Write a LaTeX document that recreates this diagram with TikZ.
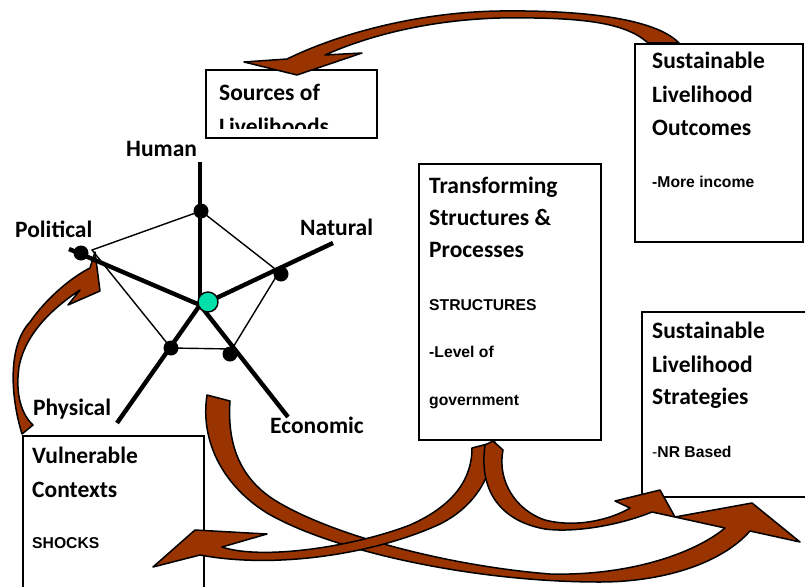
\documentclass[tikz,border=0pt]{standalone}
\usepackage{fontspec}
\newfontfamily\headfont{Carlito}
\newfontfamily\smallfont{Liberation Sans}
\definecolor{arrowbrown}{RGB}{153,51,0}
\definecolor{hubgreen}{RGB}{0,224,168}
\begin{document}
\begin{tikzpicture}[x=1pt,y=-1pt,
  boxframe/.style={draw=black, line width=1.6pt, fill=white, inner sep=0pt, anchor=north west},
  headtxt/.style={font=\headfont\bfseries\fontsize{23.5}{28}\selectfont, anchor=base west, inner sep=0pt},
  notetxt/.style={font=\smallfont\bfseries\fontsize{15.7}{19}\selectfont, anchor=base west, inner sep=0pt},
  capname/.style={font=\headfont\bfseries\fontsize{23.5}{28}\selectfont, anchor=base west, inner sep=0pt},
  blockarrow/.style={fill=arrowbrown, draw=black, line width=1.5pt, line join=round},
  spoke/.style={line width=4.4pt},
  rim/.style={line width=1.4pt},
  vertexdot/.style={circle, fill=black, inner sep=0pt, minimum size=15pt},
]
\path[use as bounding box] (0,0) rectangle (805,586);
\clip (0,0) rectangle (805,586);

% ---------- boxes ----------
\node[boxframe, minimum width=171pt, minimum height=68pt] (sources) at (205,69) {};
\node[boxframe, minimum width=182pt, minimum height=276pt] (transform) at (418,163) {};
\node[boxframe, minimum width=168pt, minimum height=198pt] (outcomes) at (634,43) {};
\node[boxframe, minimum width=220pt, minimum height=185pt] (strategies) at (641,311) {};
\node[boxframe, minimum width=181pt, minimum height=200pt] (vulnerable) at (22,435) {};

% ---------- box texts ----------
\node[headtxt] (srcA) at (219,100) {Sources of};
\begin{scope}
  \clip (206,70) rectangle (375,128);
  \node[headtxt] (srcB) at (219,134) {Livelihoods};
\end{scope}

\node[headtxt] (outA) at (652,68) {Sustainable};
\node[headtxt] (outB) at (652,102) {Livelihood};
\node[headtxt] (outC) at (652,135) {Outcomes};
\node[notetxt] (outD) at (652,187) {-More income};

\node[headtxt] (trA) at (429,193) {Transforming};
\node[headtxt] (trB) at (429,225) {Structures \&};
\node[headtxt] (trC) at (429,257) {Processes};
\node[notetxt] (trD) at (429,310) {STRUCTURES};
\node[notetxt] (trE) at (429,357) {-Level of};
\node[notetxt] (trF) at (429,405) {government};

\node[headtxt] (stA) at (652,338) {Sustainable};
\node[headtxt] (stB) at (652,372) {Livelihood};
\node[headtxt] (stC) at (652,404) {Strategies};
\node[notetxt] (stD) at (652,457) {{\mdseries-}NR Based};

\node[headtxt] (vuA) at (32,463) {Vulnerable};
\node[headtxt] (vuB) at (32,497) {Contexts};
\node[notetxt] (vuC) at (32,548) {SHOCKS};

% ---------- curved block arrow: shocks back to political capital ----------
\draw[blockarrow] (22,434) .. controls (10,395) and (8,345) .. (30,322)
  .. controls (45,300) and (70,278) .. (90,268) -- (95,252) -- (100,291)
  -- (68,305) -- (80,290) .. controls (50,310) and (25,335) .. (19,367)
  .. controls (15,395) and (22,415) .. (33,425) -- cycle;

% ---------- asset pentagon ----------
\coordinate (hub) at (200,305);
\coordinate (coreC) at (208,302);
\coordinate (pH) at (201,211);
\coordinate (pN) at (279,272);
\coordinate (pE) at (232,349);
\coordinate (pP) at (171,348);
\coordinate (pPo) at (92,250);
\draw[rim] (pH) -- (pN) -- (pE) -- (pP) -- (pPo) -- cycle;

\coordinate (tipH) at (200,162);
\coordinate (tipN) at (333,243);
\coordinate (tipPo) at (69,249);
\coordinate (tipP) at (117,423);
\coordinate (tipE) at (288,417);
\draw[spoke] (tipH) -- (hub);
\draw[spoke] (tipPo) -- (hub);
\draw[spoke] (hub) -- (tipP);
\draw[spoke] (hub) -- (tipE);
\draw[spoke] (coreC) -- (tipN);

\node[vertexdot] (dH) at (201,211) {};
\node[vertexdot] (dN) at (281,274) {};
\node[vertexdot] (dPo) at (81,253) {};
\node[vertexdot] (dP) at (171,348) {};
\node[vertexdot] (dE) at (230,354) {};
\node[circle, fill=hubgreen, draw=black, line width=1.4pt, minimum size=20pt, inner sep=0pt] (core) at (coreC) {};

\node[capname] (lHuman) at (126,156) {Human};
\node[capname] (lPolitical) at (15,237) {Political};
\node[capname] (lNatural) at (300,235) {Natural};
\node[capname] (lPhysical) at (33,415) {Physical};
\node[capname] (lEconomic) at (270,433) {Economic};

% ---------- outcomes feed back to sources ----------
\draw[blockarrow] (648,43) .. controls (625,22) and (580,17) .. (500,18)
  .. controls (430,20) and (370,35) .. (325,55) -- (362,53) -- (297,75)
  -- (244,62) -- (287,59) .. controls (340,33) and (420,12) .. (500,11)
  .. controls (580,10) and (655,18) .. (679,43) -- cycle;

% ---------- assets sweep round to the strategies ----------
\draw[blockarrow] (207,395) -- (230,401) .. controls (227,445) and (240,482) .. (283,505)
  .. controls (340,537) and (450,566) .. (550,574)
  .. controls (630,576) and (695,553) .. (725,528)
  -- (675,517) -- (752,503) -- (800,542) -- (750,531)
  .. controls (720,565) and (660,582) .. (600,582)
  .. controls (470,582) and (330,550) .. (267,513)
  .. controls (222,485) and (200,440) .. (207,395) -- cycle;

% ---------- structures act on the vulnerability context ----------
\draw[blockarrow] (153,567) -- (195,530) -- (267,534) -- (222,547)
  .. controls (260,560) and (350,548) .. (410,525)
  .. controls (455,505) and (472,478) .. (472,448) -- (495,442)
  .. controls (492,480) and (472,508) .. (440,524)
  .. controls (380,552) and (280,570) .. (200,555) -- cycle;

% ---------- structures shape the strategies ----------
\draw[blockarrow] (485,445) -- (493,441) -- (503,450)
  .. controls (497,480) and (515,510) .. (545,520)
  .. controls (575,528) and (610,520) .. (630,508)
  -- (615,501) -- (660,490) -- (675,517) -- (652,512)
  .. controls (620,525) and (575,533) .. (545,529)
  .. controls (505,522) and (478,495) .. (485,445) -- cycle;
\end{tikzpicture}
\end{document}
